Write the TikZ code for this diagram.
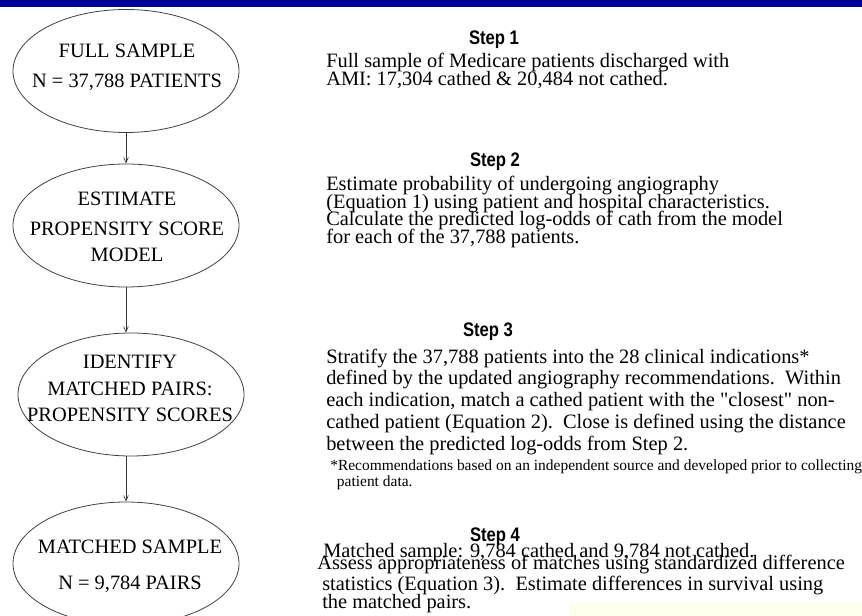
\documentclass[tikz,border=0pt]{standalone}
\usepackage{fontspec}
\setmainfont{Liberation Serif}[Ligatures=TeXOff]
\newfontfamily\headfont{Liberation Sans}[FakeStretch=0.85]
\usetikzlibrary{shapes.geometric,arrows.meta}
\definecolor{banner}{RGB}{0,0,153}
\definecolor{notepad}{RGB}{255,255,238}
\newcommand\tightlines{\lineskiplimit=-20pt\relax}

\begin{document}
\begin{tikzpicture}[x=0.75pt,y=-0.75pt]
   \tikzstyle{stage}=[draw=black!75, line width=0.6pt, ellipse, inner sep=0pt, minimum width=169.5pt, minimum height=92.25pt]
   \tikzstyle{stagetext}=[font=\fontsize{15.3}{19.5}\selectfont, align=center, anchor=north, inner sep=0pt]
   \tikzstyle{head}=[font=\headfont\bfseries\fontsize{14.7}{14.7}\selectfont, anchor=base, inner sep=0pt]
   \tikzstyle{body}=[font=\fontsize{15.3}{13.1}\selectfont\tightlines, align=left, anchor=north west, inner sep=0pt]
   \tikzstyle{note}=[font=\fontsize{11.6}{12}\selectfont\tightlines, align=left, anchor=north west, inner sep=0pt]
   \tikzstyle{flow}=[draw=black!80, line width=0.5pt, -{Straight Barb[length=4pt,width=3.5pt]}]

\useasboundingbox (0,0) rectangle (862,616);
\fill[banner] (0,0) rectangle (862,7);
\filldraw[fill=notepad, draw=yellow!12] (570,603) rectangle (862,617);

% the four stages
\node[stage] (full) at (126,71) {};
\node[stage] (model) at (126,225.5) {};
\node[stage] (pairs) at (131,394.5) {};
\node[stage] (matched) at (126,563.5) {};

\node[stagetext] (fulltext) at (127,43.5) {FULL SAMPLE\\[3pt]N = 37,788 PATIENTS};
\node[stagetext] (modeltext) at (127,191.5) {ESTIMATE\\[3pt]PROPENSITY SCORE\\MODEL};
\node[stagetext] (pairstext) at (130,354.5) {IDENTIFY\\[0.75pt]MATCHED PAIRS:\\PROPENSITY SCORES};
\node[stagetext] (matchedtext) at (130,539.5) {MATCHED SAMPLE\\[7.5pt]N = 9,784 PAIRS};

\draw[flow] (full) -- (model);
\draw[flow] (model) -- (model |- pairs.north);
\draw[flow] (pairs.south -| model) -- (matched);

% step descriptions
\node[head] (head1) at (494,45) {Step 1};
\node[body] (step1) at (326,53) {Full sample of Medicare patients discharged with\\AMI: 17,304 cathed \& 20,484 not cathed.};

\node[head] (head2) at (495,167) {Step 2};
\node[body] (step2) at (326,176) {Estimate probability of undergoing angiography\\(Equation 1) using patient and hospital characteristics.\\Calculate the predicted log-odds of cath from the model\\for each of the 37,788 patients.};

\node[head] (head3) at (488,336) {Step 3};
\node[body, font=\fontsize{15.3}{16.3}\selectfont\tightlines] (step3) at (326,348.5) {Stratify the 37,788 patients into the 28 clinical indications*\\defined by the updated angiography recommendations.\ \ Within\\each indication, match a cathed patient with the "closest" non-\\cathed patient (Equation 2).\ \ Close is defined using the distance\\between the predicted log-odds from Step 2.};
\node[note] (footnote) at (330,459.5) {*Recommendations based on an independent source and developed prior to collecting\\\hspace*{5pt}patient data.};

\node[head] (head4) at (495,541) {Step 4};
\node[body] (step4a) at (323,543) {Matched sample: 9,784 cathed and 9,784 not cathed.};
\node[body] (step4b) at (317,555) {Assess appropriateness of matches using standardized difference};
\node[body, font=\fontsize{15.3}{13.5}\selectfont\tightlines] (step4c) at (322,576) {statistics (Equation 3).\ \ Estimate differences in survival using\\the matched pairs.};

\end{tikzpicture}
\end{document}
